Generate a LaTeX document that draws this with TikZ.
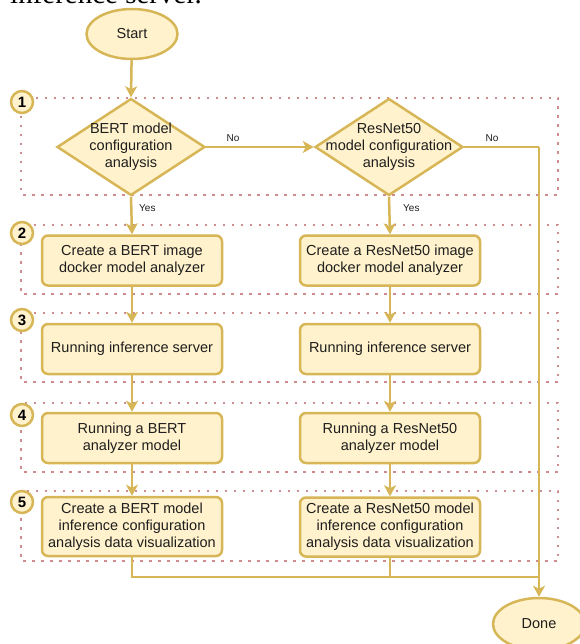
\documentclass[tikz,border=0pt]{standalone}
\usepackage{fontspec}
\setmainfont{Liberation Sans}
\newfontfamily\captionserif{Liberation Serif}
\usetikzlibrary{shapes.geometric, arrows.meta}

\definecolor{boxfill}{HTML}{FFF2CC}
\definecolor{boxline}{HTML}{D6B656}
\definecolor{stageline}{HTML}{D08C8C}
\definecolor{textgray}{HTML}{1E1E1E}

\tikzset{
    terminal/.style={ellipse, draw=boxline, fill=boxfill, line width=2.5pt,
        minimum width=91pt, minimum height=50pt, inner sep=0pt,
        font=\fontsize{14.5}{17}\selectfont, text=textgray},
    decision/.style={diamond, draw=boxline, fill=boxfill, line width=2.5pt,
        minimum width=148pt, minimum height=97pt, inner xsep=-40pt, inner ysep=-20pt,
        align=center, font=\fontsize{14.5}{17}\selectfont, text=textgray},
    process/.style={rectangle, rounded corners=6pt, draw=boxline, fill=boxfill,
        line width=2.5pt, minimum width=180pt, minimum height=50pt, inner sep=0pt,
        align=center, font=\fontsize{14.5}{17}\selectfont, text=textgray},
    stagebox/.style={draw=stageline, line width=2.2pt, dash pattern=on 2.5pt off 6.5pt},
    stagenum/.style={circle, draw=boxline, fill=boxfill, line width=2.5pt,
        minimum size=22pt, inner sep=0pt, font=\fontsize{15}{15}\selectfont\bfseries},
    flow/.style={draw=boxline, line width=2.5pt,
        -{Stealth[length=11pt, width=12pt, inset=3pt]}},
    plainflow/.style={draw=boxline, line width=2.5pt},
    choice/.style={font=\fontsize{10}{10}\selectfont, text=textgray, inner sep=0pt}
}

\begin{document}
\begin{tikzpicture}[x=1pt, y=-1pt]
    \useasboundingbox (0,0) rectangle (579,644);

    % --- Caption line, cut off by the page top ---
    \node[anchor=base west, inner sep=0pt, font=\captionserif\fontsize{29}{29}\selectfont]
        (caption) at (10,4) {inference server.};

    % --- Dotted stage frames ---
    \draw[stagebox] (21,98) rectangle (558,195);
    \draw[stagebox] (21,225) rectangle (558,294);
    \draw[stagebox] (21,313) rectangle (558,382);
    \draw[stagebox] (21,403) rectangle (558,472);
    \draw[stagebox] (21,491) rectangle (558,561);

    \node[stagenum] (num1) at (22,102) {1};
    \node[stagenum] (num2) at (22,233) {2};
    \node[stagenum] (num3) at (22,320) {3};
    \node[stagenum] (num4) at (22,415) {4};
    \node[stagenum] (num5) at (22,502) {5};

    % --- Start / decisions ---
    \node[terminal] (start) at (132,34) {Start};
    \node[decision] (bertq) at (131,147) {BERT model\\configuration\\analysis};
    \node[decision] (resq) at (389,147) {ResNet50\\model configuration\\analysis};

    % --- BERT column ---
    \node[process] (bertimg) at (132,260.5) {Create a BERT image\\docker model analyzer};
    \node[process] (bertsrv) at (132,349) {Running inference server};
    \node[process] (bertrun) at (132,438) {Running a BERT\\analyzer model};
    \node[process, minimum height=59pt] (bertvis) at (132,526.5)
        {Create a BERT model\\inference configuration\\analysis data visualization};

    % --- ResNet50 column ---
    \node[process] (resimg) at (390,260.5) {Create a ResNet50 image\\docker model analyzer};
    \node[process] (ressrv) at (390,349) {Running inference server};
    \node[process] (resrun) at (390,438) {Running a ResNet50\\analyzer model};
    \node[process, minimum height=59pt] (resvis) at (390,527)
        {Create a ResNet50 model\\inference configuration\\analysis data visualization};

    \node[terminal, minimum width=92pt, minimum height=52pt] (done) at (539,624) {Done};

    % --- Connectors ---
    \coordinate (turn) at (539,147);
    \coordinate (merge) at (539,577);

    \draw[flow] (start) -- (bertq.north);
    \draw[flow] (bertq.east) -- (resq.west);
    \draw[plainflow] (resq.east) -- (turn);
    \draw[flow] (turn) -- (done.north);

    \draw[flow] (bertq.south) -- (bertimg.north);
    \draw[flow] (bertimg) -- (bertsrv);
    \draw[flow] (bertsrv) -- (bertrun);
    \draw[flow] (bertrun) -- (bertvis);

    \draw[flow] (resq.south) -- (resimg.north);
    \draw[flow] (resimg) -- (ressrv);
    \draw[flow] (ressrv) -- (resrun);
    \draw[flow] (resrun) -- (resvis);

    \draw[plainflow] (bertvis.south) |- (merge);
    \draw[plainflow] (resvis.south) -- (resvis.south |- merge);

    % --- Yes / No ---
    \node[choice] (no1) at (233,138) {No};
    \node[choice] (no2) at (492,138) {No};
    \node[choice, anchor=west] (yes1) at (139,208) {Yes};
    \node[choice, anchor=west] (yes2) at (403,208) {Yes};

\end{tikzpicture}
\end{document}
